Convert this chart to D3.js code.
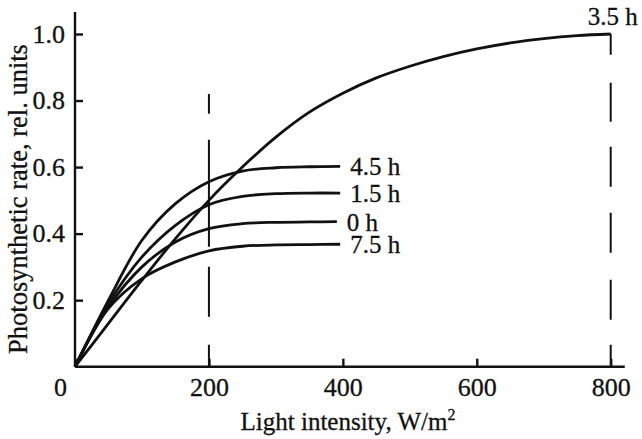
<!DOCTYPE html>
<html>
<head>
<meta charset="utf-8">
<script src="https://cdn.jsdelivr.net/npm/d3@7"></script>
<style>
  body { margin: 0; background: #fff; }
  svg { display: block; }
  text { font-family: "Liberation Serif", "Times New Roman", serif; fill: #111; stroke: #111; stroke-width: 0.3px; }
</style>
</head>
<body>
<svg id="vis-svg"></svg>
<script>
// values (light intensity W/m2, relative rate)
const xTicks = [0, 200, 400, 600, 800];
const yTicks = [0.2, 0.4, 0.6, 0.8, 1.0];

const seriesNames = ["3.5 h", "4.5 h", "1.5 h", "0 h", "7.5 h"];

const light35 = [0, 50, 100, 150, 200, 250, 300, 350, 400, 450, 500, 550, 600, 650, 700, 750, 800];
const rate35  = [0, 0.13, 0.26, 0.385, 0.5, 0.6, 0.69, 0.765, 0.822, 0.868, 0.903, 0.932, 0.955, 0.973, 0.986, 0.995, 1.0];

const light45 = [0, 50, 100, 150, 200, 250, 300, 350, 396];
const rate45  = [0, 0.2, 0.38, 0.49, 0.556, 0.588, 0.598, 0.601, 0.602];

const light15 = [0, 50, 100, 150, 200, 250, 300, 350, 396];
const rate15  = [0, 0.19, 0.33, 0.425, 0.487, 0.512, 0.52, 0.522, 0.522];

const light0 = [0, 50, 100, 150, 200, 250, 300, 350, 391];
const rate0  = [0, 0.18, 0.3, 0.375, 0.415, 0.43, 0.434, 0.435, 0.436];

const light75 = [0, 50, 100, 150, 200, 250, 300, 350, 396];
const rate75  = [0, 0.175, 0.265, 0.315, 0.348, 0.362, 0.366, 0.367, 0.368];

// dashed reference lines
const dashX   = [200, 800];
const dashTop = [0.82, 1.0];

const width = 642, height = 439;

const svg = d3.select("#vis-svg")
    .attr("width", width)
    .attr("height", height);

const x = d3.scaleLinear().domain([0, 800]).range([75, 610.7]),
      y = d3.scaleLinear().domain([0, 1]).range([366.7, 34]);

// dashed verticals
const dashes = ["22,28,50,20,107,26,23", "22,25,40,27,40,26,40,25,39,28,22"];
svg.selectAll(".ref")
    .data(dashX)
  .enter().append("line")
    .attr("x1", d => x(d))
    .attr("x2", d => x(d))
    .attr("y1", y(0))
    .attr("y2", (d, i) => y(dashTop[i]))
    .attr("stroke", "#111")
    .attr("stroke-width", 2)
    .attr("stroke-dasharray", (d, i) => dashes[i]);

// curves
const series = [
    {name: seriesNames[0], xs: light35, ys: rate35},
    {name: seriesNames[1], xs: light45, ys: rate45},
    {name: seriesNames[2], xs: light15, ys: rate15},
    {name: seriesNames[3], xs: light0,  ys: rate0},
    {name: seriesNames[4], xs: light75, ys: rate75}
];

const line = d3.line()
    .x(d => x(d[0]))
    .y(d => y(d[1]))
    .curve(d3.curveCatmullRom.alpha(0.5));

svg.selectAll(".curve")
    .data(series)
  .enter().append("path")
    .attr("d", s => line(s.xs.map((v, i) => [v, s.ys[i]])))
    .attr("fill", "none")
    .attr("stroke", "#111")
    .attr("stroke-width", 2.8);

// curve labels
svg.selectAll(".lbl")
    .data(series)
  .enter().append("text")
    .attr("x", (s, i) => i === 0 ? x(800) + 2 : x(s.xs[s.xs.length - 1]) + 10)
    .attr("y", (s, i) => i === 0 ? y(1.0) - 9 : y(s.ys[s.ys.length - 1]) + 9)
    .attr("text-anchor", (s, i) => i === 0 ? "middle" : "start")
    .style("font-size", "25px")
    .text(s => s.name);

// x axis
const xAxis = svg.append("g")
    .attr("transform", "translate(0," + y(0) + ")")
    .call(d3.axisBottom(x).tickValues(xTicks).tickSizeInner(-8).tickSizeOuter(0));
xAxis.select(".domain")
    .attr("d", "M" + x(0) + ",0H" + x(821));
xAxis.selectAll("text")
    .attr("y", 29)
    .attr("dy", null)
    .attr("dx", d => d === 0 ? -15 : 0)
    .style("font-size", "26px");

// y axis
const yAxis = svg.append("g")
    .attr("transform", "translate(" + x(0) + ",0)")
    .call(d3.axisLeft(y).tickValues(yTicks).tickFormat(d3.format(".1f"))
        .tickSizeInner(-8).tickSizeOuter(0).tickPadding(10));
yAxis.select(".domain")
    .attr("d", "M0," + y(0) + "V" + y(1.066));
yAxis.selectAll("text")
    .style("font-size", "26px");

svg.selectAll(".domain, .tick line")
    .attr("stroke", "#111")
    .attr("stroke-width", 2.4);

svg.selectAll(".tick text").attr("fill", "#111");

// axis titles
const xLabel = svg.append("text")
    .attr("x", 348)
    .attr("y", 430)
    .attr("text-anchor", "middle")
    .style("font-size", "25px")
    .text("Light intensity, W/m");
xLabel.append("tspan")
    .attr("dy", -10)
    .style("font-size", "16px")
    .text("2");

svg.append("text")
    .attr("transform", "translate(27,199) rotate(-90)")
    .attr("text-anchor", "middle")
    .style("font-size", "26.5px")
    .text("Photosynthetic rate, rel. units");
</script>
</body>
</html>
